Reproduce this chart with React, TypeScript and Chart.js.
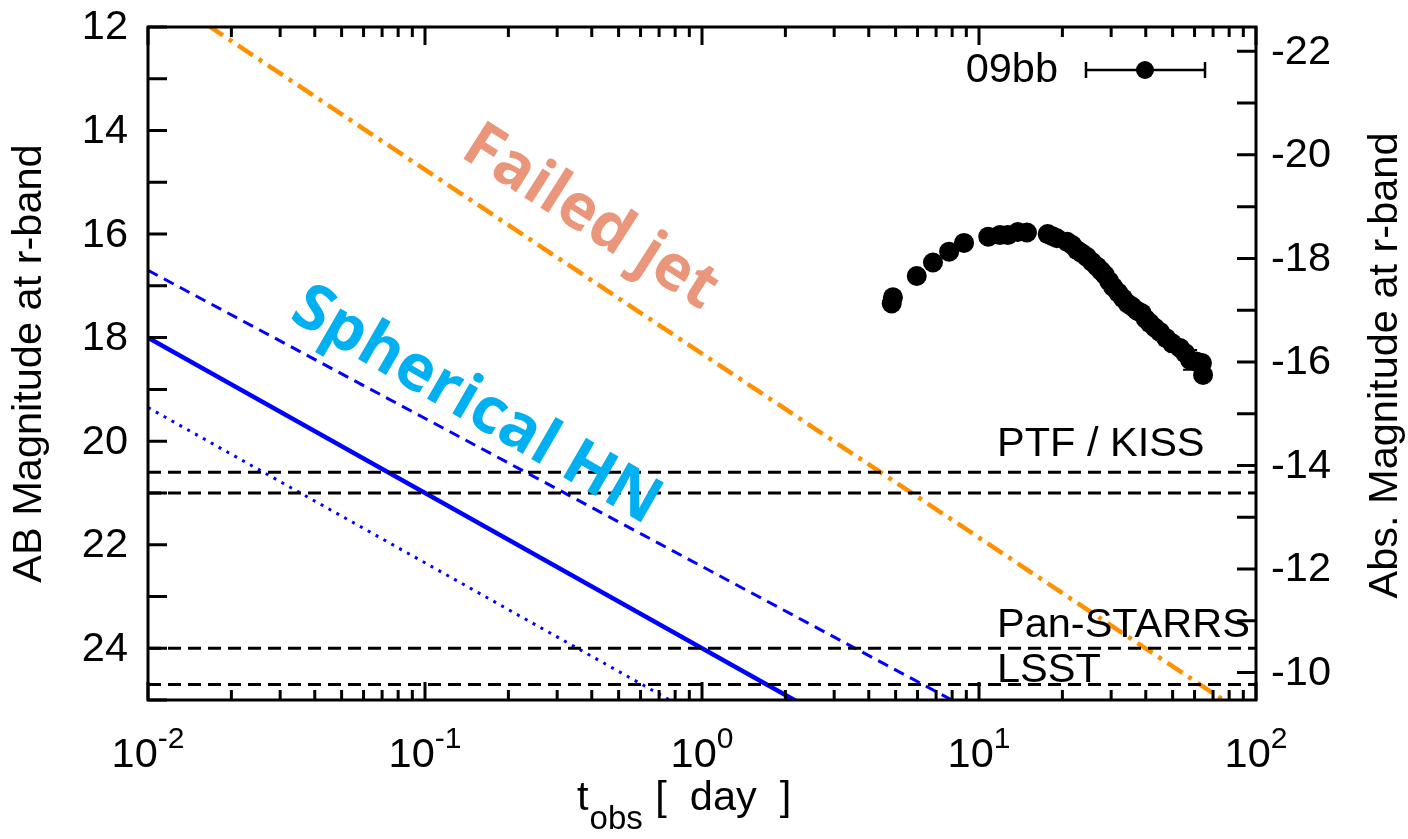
import React, { useEffect, useRef } from 'react';
import { Chart, registerables } from 'chart.js';

Chart.register(...registerables);

// SN 2009bb r-band light curve (observer-frame days, AB magnitude, 1-sigma error)
const sn09bbDays = [
  4.84, 4.89, 5.96, 6.82, 7.80, 8.83, 10.8, 11.9, 12.7, 13.8, 14.9, 17.7, 18.4, 19.1,
  20.8, 21.7, 22.6, 23.5, 24.5, 25.6, 26.7, 27.6, 28.5, 29.5, 30.5, 31.8, 33.1, 34.4,
  35.7, 37.2, 38.7, 40.0, 41.4, 43.2, 45.0, 47.4, 49.8, 53.2, 55.5, 57.8, 60.8, 63.8, 64.4,
];
const sn09bbMag = [
  17.34, 17.22, 16.81, 16.55, 16.34, 16.17, 16.05, 16.02, 16.02, 15.96, 15.97, 16.0, 16.04, 16.08,
  16.15, 16.21, 16.31, 16.37, 16.44, 16.54, 16.63, 16.71, 16.79, 16.91, 17.02, 17.13, 17.24, 17.34,
  17.4, 17.48, 17.53, 17.64, 17.72, 17.81, 17.89, 18.01, 18.11, 18.2, 18.3, 18.43, 18.46, 18.49, 18.72,
];
const sn09bbErr = [
  0.1, 0.05, 0.03, 0.03, 0.03, 0.03, 0.03, 0.03, 0.03, 0.03, 0.03, 0.03, 0.03, 0.03,
  0.03, 0.03, 0.03, 0.03, 0.03, 0.03, 0.03, 0.03, 0.03, 0.03, 0.03, 0.03, 0.03, 0.03,
  0.03, 0.03, 0.03, 0.03, 0.03, 0.03, 0.03, 0.03, 0.05, 0.05, 0.05, 0.19, 0.08, 0.12, 0.05,
];

// Model light curves: power laws, straight lines in (log t, mag)
const modelDays = [0.01, 100];
const failedJetMag = [11.2, 25.42];
const hnSolidMag = [18.0, 30.0];
const hnDashedMag = [16.7, 28.14];
const hnDottedMag = [19.35, 31.35];

// Survey limiting magnitudes
const surveyLimits = [20.6, 21.0, 24.0, 24.7];
const surveyNames = ['PTF / KISS', 'Pan-STARRS', 'LSST'];

const distanceModulus = 34.47;

// Axis ticks
const appMagTicks = [12, 13, 14, 15, 16, 17, 18, 19, 20, 21, 22, 23, 24, 25];
const absMagTicks = [-22, -21, -20, -19, -18, -17, -16, -15, -14, -13, -12, -11, -10];
const decadeExponents = [-2, -1, 0, 1, 2];

const FONT = '"Liberation Sans", Arial, Helvetica, sans-serif';
const FS = 41.5;
const FS_SMALL = 30;

const pairs = (xs: number[], ys: number[]) => xs.map((x, i) => ({ x, y: ys[i] }));

const frameAndLabels = {
  id: 'frameAndLabels',
  afterDatasetsDraw(chart: any) {
    const { ctx, chartArea: ca, scales } = chart;
    const xs = scales.x;
    const ys = scales.y;
    const y2 = scales.y2;
    ctx.save();

    // y error bars of the 09bb photometry
    ctx.strokeStyle = '#000';
    ctx.lineWidth = 2;
    sn09bbDays.forEach((t, i) => {
      const e = sn09bbErr[i];
      if (e < 0.08) return;
      const px = xs.getPixelForValue(t);
      const top = ys.getPixelForValue(sn09bbMag[i] - e);
      const bot = ys.getPixelForValue(sn09bbMag[i] + e);
      ctx.beginPath();
      ctx.moveTo(px, top);
      ctx.lineTo(px, bot);
      ctx.moveTo(px - 7, top);
      ctx.lineTo(px + 7, top);
      ctx.moveTo(px - 7, bot);
      ctx.lineTo(px + 7, bot);
      ctx.stroke();
    });

    // frame
    ctx.strokeStyle = '#000';
    ctx.lineWidth = 3;
    ctx.strokeRect(ca.left, ca.top, ca.right - ca.left, ca.bottom - ca.top);

    // left ticks (apparent magnitude)
    ctx.lineWidth = 3;
    ctx.beginPath();
    appMagTicks.forEach((m) => {
      const py = ys.getPixelForValue(m);
      ctx.moveTo(ca.left, py);
      ctx.lineTo(ca.left + 19, py);
    });
    // right ticks (absolute magnitude)
    absMagTicks.forEach((m) => {
      const py = y2.getPixelForValue(m);
      ctx.moveTo(ca.right, py);
      ctx.lineTo(ca.right - 19, py);
    });
    // log x ticks, bottom and mirrored top
    decadeExponents.forEach((d) => {
      for (let k = 1; k <= 9; k++) {
        if (d === 2 && k > 1) break;
        const v = k * Math.pow(10, d);
        const px = xs.getPixelForValue(v);
        const len = k === 1 ? 18 : 10;
        ctx.moveTo(px, ca.bottom);
        ctx.lineTo(px, ca.bottom - len);
        ctx.moveTo(px, ca.top);
        ctx.lineTo(px, ca.top + len);
      }
    });
    ctx.stroke();

    ctx.fillStyle = '#000';
    ctx.font = `${FS}px ${FONT}`;
    ctx.textBaseline = 'middle';

    // left tick labels
    ctx.textAlign = 'right';
    appMagTicks.forEach((m) => {
      if (m % 2 !== 0) return;
      ctx.fillText(String(m), ca.left - 20, ys.getPixelForValue(m) + 1);
    });
    // right tick labels
    ctx.textAlign = 'left';
    absMagTicks.forEach((m) => {
      if (m % 2 !== 0) return;
      ctx.fillText(String(m), ca.right + 15, y2.getPixelForValue(m) + 1);
    });

    // x tick labels: 10^n
    ctx.textBaseline = 'alphabetic';
    decadeExponents.forEach((d) => {
      const px = xs.getPixelForValue(Math.pow(10, d));
      ctx.font = `${FS}px ${FONT}`;
      const wBase = ctx.measureText('10').width;
      ctx.font = `${FS_SMALL}px ${FONT}`;
      const exp = String(d);
      const wExp = ctx.measureText(exp).width;
      const x0 = px - (wBase + wExp) / 2;
      ctx.textAlign = 'left';
      ctx.font = `${FS}px ${FONT}`;
      ctx.fillText('10', x0, ca.bottom + 67);
      ctx.font = `${FS_SMALL}px ${FONT}`;
      ctx.fillText(exp, x0 + wBase, ca.bottom + 48);
    });

    // x axis title: t_obs [ day ]
    const subFont = `33px ${FONT}`;
    ctx.font = `${FS}px ${FONT}`;
    const wt = ctx.measureText('t').width;
    ctx.font = subFont;
    const wSub = ctx.measureText('obs').width;
    const xt0 = 577;
    ctx.font = `${FS}px ${FONT}`;
    ctx.fillText('t', xt0, ca.bottom + 110);
    ctx.font = subFont;
    ctx.fillText('obs', xt0 + wt + 1, ca.bottom + 129);
    ctx.font = `${FS}px ${FONT}`;
    ctx.fillText(' [  day  ]', xt0 + wt + wSub + 2, ca.bottom + 110);

    // y axis titles
    ctx.textAlign = 'center';
    ctx.textBaseline = 'middle';
    ctx.save();
    ctx.translate(30, (ca.top + ca.bottom) / 2);
    ctx.rotate(-Math.PI / 2);
    ctx.fillText('AB Magnitude at r-band', 0, 0);
    ctx.restore();
    ctx.save();
    ctx.translate(1386, (ca.top + ca.bottom) / 2 + 2);
    ctx.rotate(-Math.PI / 2);
    ctx.fillText('Abs. Magnitude at r-band', 0, 0);
    ctx.restore();

    // survey names
    ctx.textAlign = 'left';
    ctx.textBaseline = 'alphabetic';
    const labelX = 997;
    ctx.fillText(surveyNames[0], labelX, ys.getPixelForValue(surveyLimits[0]) - 16);
    ctx.fillText(surveyNames[1], labelX, ys.getPixelForValue(surveyLimits[2]) - 11);
    ctx.fillText(surveyNames[2], labelX, ys.getPixelForValue(surveyLimits[3]) - 2);

    // key for the 09bb photometry
    ctx.textAlign = 'right';
    ctx.textBaseline = 'middle';
    ctx.fillText('09bb', 1058, 71);
    ctx.lineWidth = 2.5;
    ctx.beginPath();
    ctx.moveTo(1086, 70);
    ctx.lineTo(1205, 70);
    ctx.moveTo(1086, 62);
    ctx.lineTo(1086, 78);
    ctx.moveTo(1205, 62);
    ctx.lineTo(1205, 78);
    ctx.stroke();
    ctx.beginPath();
    ctx.arc(1145, 70, 9, 0, Math.PI * 2);
    ctx.fill();

    // model labels
    ctx.textAlign = 'center';
    ctx.textBaseline = 'middle';
    ctx.font = `bold 63px "Open Sans", ${FONT}`;
    ctx.fillStyle = '#e9967a';
    ctx.save();
    ctx.translate(590, 218);
    ctx.rotate((32.5 * Math.PI) / 180);
    ctx.fillText('Failed jet', 0, 0);
    ctx.restore();

    ctx.font = `bold 64px "Open Sans", ${FONT}`;
    ctx.fillStyle = '#00b0f0';
    ctx.save();
    ctx.translate(476, 406);
    ctx.rotate((30 * Math.PI) / 180);
    ctx.fillText('Spherical HN', 0, 0);
    ctx.restore();

    ctx.restore();
  },
};

export default function App() {
  const canvasRef = useRef<HTMLCanvasElement | null>(null);

  useEffect(() => {
    document.body.style.margin = '0';
    const canvas = canvasRef.current;
    if (!canvas) return;

    const limitLine = (m: number) => ({
      data: pairs(modelDays, [m, m]),
      showLine: true,
      borderColor: '#000',
      borderWidth: 3,
      borderDash: [13, 7],
      pointRadius: 0,
    });

    const chart = new Chart(canvas, {
      type: 'scatter',
      data: {
        datasets: [
          ...surveyLimits.map(limitLine),
          {
            data: pairs(modelDays, hnDottedMag),
            showLine: true,
            borderColor: '#0000ff',
            borderWidth: 3,
            borderDash: [3, 6],
            pointRadius: 0,
          },
          {
            data: pairs(modelDays, hnDashedMag),
            showLine: true,
            borderColor: '#0000ff',
            borderWidth: 3,
            borderDash: [11, 7],
            pointRadius: 0,
          },
          {
            data: pairs(modelDays, hnSolidMag),
            showLine: true,
            borderColor: '#0000ff',
            borderWidth: 4.5,
            pointRadius: 0,
          },
          {
            data: pairs(modelDays, failedJetMag),
            showLine: true,
            borderColor: '#ff9000',
            borderWidth: 4.5,
            borderDash: [18, 7, 4, 7],
            pointRadius: 0,
          },
          {
            data: pairs(sn09bbDays, sn09bbMag),
            showLine: false,
            backgroundColor: '#000',
            borderColor: '#000',
            pointRadius: 10,
            pointBorderWidth: 0,
          },
        ],
      },
      options: {
        responsive: false,
        animation: false,
        devicePixelRatio: 1,
        layout: { padding: { left: 148, right: 152, top: 27, bottom: 139 } },
        plugins: { legend: { display: false }, tooltip: { enabled: false } },
        scales: {
          x: { type: 'logarithmic', min: 0.01, max: 100, display: false },
          y: { type: 'linear', min: 12, max: 25, reverse: true, display: false },
          y2: {
            type: 'linear',
            position: 'right',
            min: 12 - distanceModulus,
            max: 25 - distanceModulus,
            reverse: true,
            display: false,
          },
        },
      },
      plugins: [frameAndLabels],
    });

    return () => chart.destroy();
  }, []);

  return (
    <div style={{ width: 1408, height: 839, background: '#fff' }}>
      <canvas ref={canvasRef} width={1408} height={839} style={{ display: 'block' }} />
    </div>
  );
}
